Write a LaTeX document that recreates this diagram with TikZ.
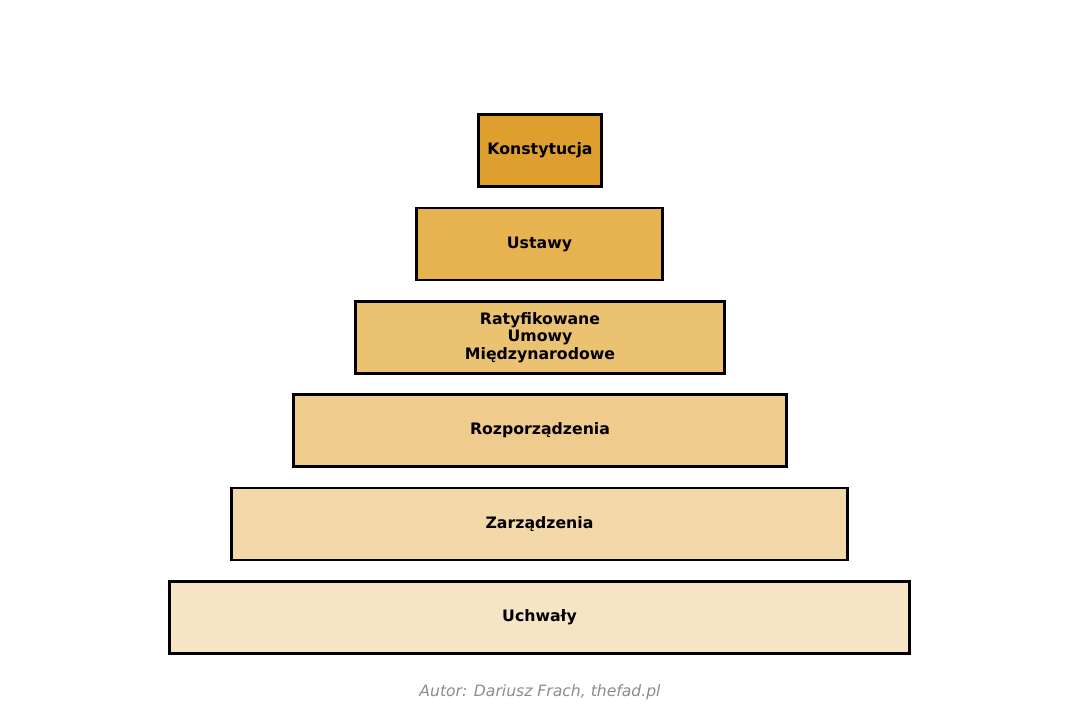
\documentclass[tikz,border=0pt]{standalone}
\usepackage{fontspec}
\setmainfont{DejaVu Sans}
\usetikzlibrary{positioning}
\definecolor{lvlA}{HTML}{DF9F2E}
\definecolor{lvlB}{HTML}{E6B350}
\definecolor{lvlC}{HTML}{EBC272}
\definecolor{lvlD}{HTML}{EFCC8D}
\definecolor{lvlE}{HTML}{F3D9AA}
\definecolor{lvlF}{HTML}{F6E5C5}
\tikzset{level/.style={draw=black,line width=2.2pt,minimum height=54pt,inner sep=2pt,
  outer sep=0pt,align=center,font=\bfseries\fontsize{11.8}{13}\selectfont}}
\begin{document}
\begin{tikzpicture}[x=0.75pt,y=-0.75pt]
\useasboundingbox (0,0) rectangle (1080,723);
\node[level,fill=lvlA,minimum width=92pt]  (konst) at (540,150.5) {Konstytucja};
\node[level,fill=lvlB,minimum width=184pt] (ustawy) at (539.5,244) {Ustawy};
\node[level,fill=lvlC,minimum width=276.5pt] (umowy) at (540,337.5) {Ratyfikowane\\Umowy\\Międzynarodowe};
\node[level,fill=lvlD,minimum width=369.5pt] (rozp) at (540,430.5) {Rozporządzenia};
\node[level,fill=lvlE,minimum width=461.75pt] (zarz) at (539.5,524) {Zarządzenia};
\node[level,fill=lvlF,minimum width=554.75pt] (uchw) at (539.5,617.5) {Uchwały};
\node[text=gray!90,font=\itshape\fontsize{11.7}{13}\selectfont] (autor) at (540,692) {Autor: Dariusz Frach, thefad.pl};
\end{tikzpicture}
\end{document}
